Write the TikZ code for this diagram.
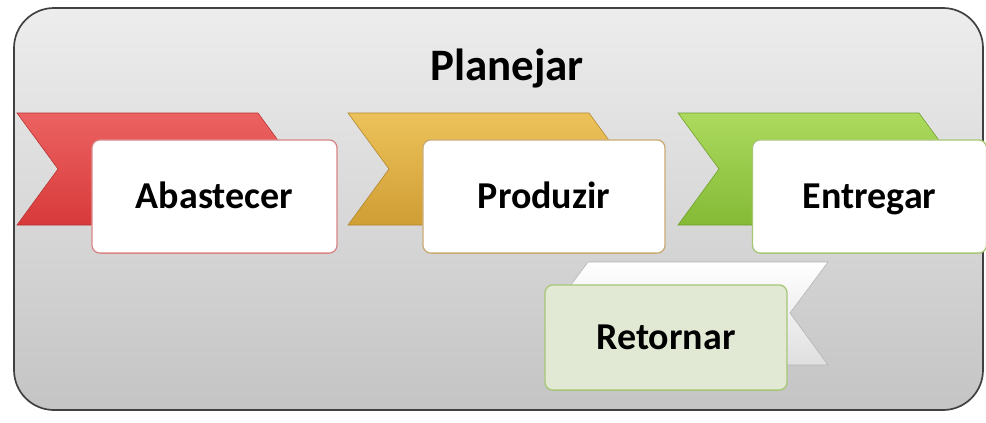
\documentclass[tikz,border=0pt]{standalone}
\usepackage{fontspec}
\setmainfont{Carlito}
\definecolor{fundoA}{HTML}{EDEDED}
\definecolor{fundoB}{HTML}{C4C4C4}
\definecolor{vermA}{HTML}{EC6262}
\definecolor{vermB}{HTML}{D83A3A}
\definecolor{ouroA}{HTML}{EDC25A}
\definecolor{ouroB}{HTML}{CF9E34}
\definecolor{verdeA}{HTML}{ACDA5E}
\definecolor{verdeB}{HTML}{84BA36}
\definecolor{bordaVerm}{HTML}{D98585}
\definecolor{bordaOuro}{HTML}{C9AA72}
\definecolor{bordaVerde}{HTML}{A6C674}
\definecolor{retFill}{HTML}{E1E9D5}
\begin{document}
\begin{tikzpicture}[
		x=0.025cm, y=-0.025cm,
		etapa/.style={draw, fill=white, rounded corners=0.2cm, line width=0.9pt,
				minimum height=2.83cm, text height=17.5pt, text depth=0pt,
				font=\fontsize{27}{31}\selectfont\bfseries},
		seta/.style={line width=0.4pt, draw=#1B!85!black, top color=#1A, bottom color=#1B}
	]
	\useasboundingbox (0,0) rectangle (986,422);
	% fundo
	\path[draw=black!75, line width=1.2pt, rounded corners=1cm,
		top color=fundoA, bottom color=fundoB] (14,8) rectangle (983,410);
	\node[font=\fontsize{32}{36}\selectfont\bfseries] (planejar) at (507,69) {Planejar};
	% setas
	\path[seta=verm] (17,113) -- (258,113) -- (299,169) -- (258,225) -- (17,225) -- (58,169) -- cycle;
	\path[seta=ouro] (348,113) -- (589,113) -- (630,169) -- (589,225) -- (348,225) -- (389,169) -- cycle;
	\path[seta=verde] (678,113) -- (919,113) -- (960,169) -- (919,225) -- (678,225) -- (719,169) -- cycle;
	\path[line width=0.4pt, draw=gray!60, top color=white, bottom color=gray!25]
	(550,313) -- (588,262) -- (828,262) -- (790,313) -- (828,365) -- (588,365) -- cycle;
	% etapas
	\node[etapa, draw=bordaVerm, minimum width=6.125cm] (abastecer) at (214.5,196.5) {Abastecer};
	\node[etapa, draw=bordaOuro, minimum width=6.05cm] (produzir) at (544,196.5) {Produzir};
	\node[etapa, draw=bordaVerde, minimum width=5.85cm] (entregar) at (869.5,196.5) {Entregar};
	\node[etapa, draw=bordaVerde, fill=retFill, minimum width=6.05cm, minimum height=2.63cm]
	(retornar) at (666,337.5) {Retornar};
\end{tikzpicture}
\end{document}
